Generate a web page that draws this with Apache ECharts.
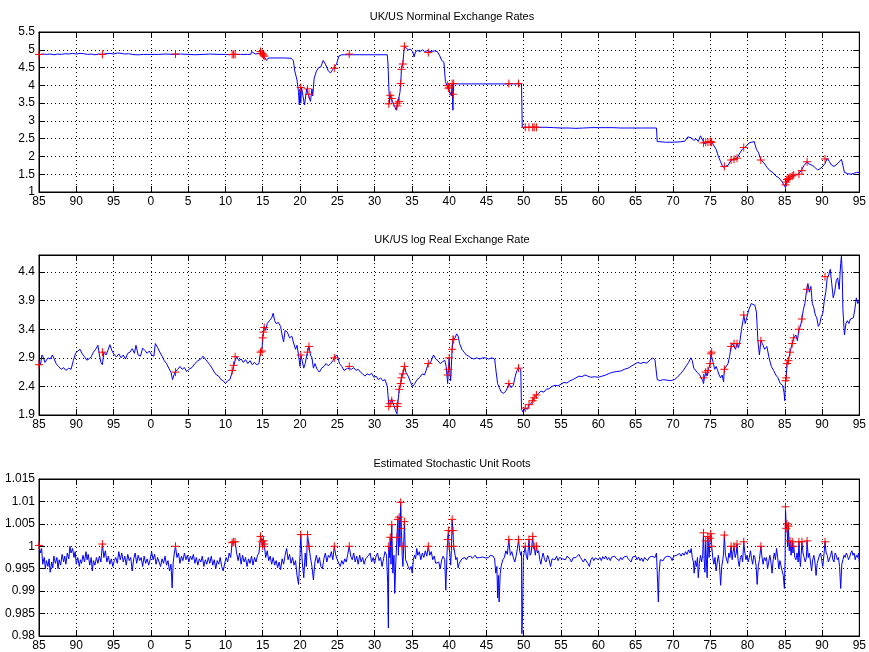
<!DOCTYPE html>
<html>
<head>
<meta charset="utf-8">
<script src="https://cdn.jsdelivr.net/npm/echarts@6/dist/echarts.min.js"></script>
<style>
html,body{margin:0;padding:0;background:#fff}
#chart{width:869px;height:652px}
</style>
</head>
<body>
<div id="chart"></div>
<script>
// Panel titles
const titles = ['UK/US Norminal Exchange Rates', 'UK/US log Real Exchange Rate', 'Estimated Stochastic Unit Roots'];

// Tick labels of the three value axes
const ticksNominal = [1, 1.5, 2, 2.5, 3, 3.5, 4, 4.5, 5, 5.5];
const ticksReal = [1.9, 2.4, 2.9, 3.4, 3.9, 4.4];
const ticksRoot = [0.98, 0.985, 0.99, 0.995, 1, 1.005, 1.01, 1.015];

// UK/US nominal exchange rate, [year, rate]
const nominal = [
[1885.0,4.86],[1885.5,4.88],[1886,4.87],[1886.5,4.88],[1887,4.86],[1887.5,4.88],[1888,4.87],[1888.5,4.89],[1889,4.88],[1889.5,4.9],[1890,4.88],[1890.5,4.9],[1891,4.89],[1891.5,4.87],[1892,4.88],[1892.5,4.86],[1893,4.88],[1893.5,4.87],[1894,4.89],[1894.5,4.9],[1895,4.88],[1895.5,4.91],[1896,4.9],[1896.5,4.88],[1897,4.89],[1897.5,4.87],[1898,4.86],[1898.5,4.86],[1899,4.87],[1899.5,4.87],[1900,4.87],[1901,4.87],[1902,4.88],[1903,4.87],[1904,4.88],[1905,4.87],[1906,4.86],[1907,4.87],[1908,4.88],[1909,4.87],[1910,4.87],[1910.5,4.86],[1911,4.87],[1912,4.87],[1913,4.87],[1913.4,4.87],[1913.5,4.95],[1913.6,4.9],[1914,4.88],[1914.5,4.9],[1914.7,4.95],[1914.9,4.9],[1915.1,4.84],[1915.3,4.8],[1915.5,4.7],[1915.7,4.76],[1916,4.77],[1917,4.77],[1918,4.77],[1918.8,4.76],[1919.1,4.7],[1919.3,4.4],[1919.6,4.15],[1919.8,3.8],[1919.9,3.45],[1920.0,3.9],[1920.1,3.5],[1920.2,3.95],[1920.4,3.9],[1920.6,3.45],[1920.7,3.4],[1920.9,3.9],[1921.0,3.8],[1921.2,3.75],[1921.4,3.55],[1921.6,3.9],[1921.7,3.7],[1921.9,4.2],[1922.2,4.4],[1922.5,4.5],[1922.8,4.52],[1923.1,4.7],[1923.4,4.6],[1923.8,4.4],[1924.1,4.35],[1924.4,4.45],[1924.6,4.48],[1924.9,4.6],[1925.2,4.82],[1925.6,4.86],[1926,4.86],[1927,4.86],[1928,4.86],[1929,4.86],[1930,4.86],[1931,4.86],[1931.7,4.86],[1931.8,4.6],[1931.9,4.0],[1932.0,3.5],[1932.1,3.72],[1932.3,3.6],[1932.5,3.6],[1932.7,3.4],[1932.9,3.3],[1933.0,3.42],[1933.1,3.5],[1933.3,3.55],[1933.4,3.8],[1933.5,4.05],[1933.6,4.45],[1933.8,4.65],[1934.0,5.1],[1934.2,5.05],[1934.5,5.0],[1934.8,5.02],[1935.1,4.95],[1935.3,4.8],[1935.5,4.95],[1935.8,4.98],[1936.1,4.95],[1936.4,5.0],[1936.7,4.95],[1937.0,4.97],[1937.2,4.92],[1937.6,4.95],[1938,4.97],[1938.4,4.95],[1938.7,4.85],[1939.0,4.7],[1939.3,4.65],[1939.5,4.1],[1939.7,4.0],[1939.9,3.92],[1940.1,3.95],[1940.3,3.7],[1940.4,4.05],[1940.5,3.3],[1940.6,4.05],[1941,4.04],[1942,4.04],[1943,4.04],[1944,4.04],[1945,4.04],[1946,4.04],[1947,4.04],[1948,4.04],[1949,4.04],[1949.7,4.04],[1949.8,2.82],[1951,2.82],[1952,2.82],[1953,2.82],[1954,2.81],[1955,2.8],[1956,2.8],[1957,2.79],[1958,2.8],[1959,2.81],[1960,2.81],[1961,2.81],[1962,2.81],[1963,2.8],[1964,2.8],[1965,2.8],[1966,2.8],[1967,2.8],[1967.8,2.8],[1967.9,2.42],[1969,2.4],[1970,2.4],[1971,2.41],[1971.6,2.43],[1972,2.55],[1972.2,2.6],[1972.5,2.52],[1972.8,2.45],[1973.1,2.5],[1973.4,2.42],[1973.7,2.58],[1974,2.45],[1974.3,2.35],[1974.6,2.4],[1974.9,2.42],[1975.2,2.42],[1975.5,2.3],[1975.8,2.2],[1976.1,2.0],[1976.4,1.85],[1976.7,1.7],[1977,1.72],[1977.4,1.75],[1977.8,1.9],[1978.2,1.92],[1978.6,1.95],[1979,2.1],[1979.3,2.2],[1979.6,2.25],[1979.9,2.3],[1980.2,2.38],[1980.6,2.4],[1980.9,2.42],[1981.2,2.2],[1981.5,2.1],[1981.8,1.9],[1982.2,1.82],[1982.6,1.7],[1983,1.6],[1983.4,1.55],[1983.8,1.45],[1984.2,1.4],[1984.6,1.3],[1984.9,1.2],[1985.1,1.12],[1985.3,1.3],[1985.6,1.4],[1986,1.45],[1986.4,1.48],[1986.8,1.5],[1987.2,1.6],[1987.6,1.75],[1988,1.85],[1988.3,1.78],[1988.7,1.75],[1989,1.7],[1989.4,1.62],[1989.7,1.65],[1990,1.7],[1990.4,1.8],[1990.7,1.95],[1991,1.85],[1991.3,1.75],[1991.6,1.72],[1992,1.78],[1992.3,1.85],[1992.6,1.92],[1992.8,1.75],[1993,1.55],[1993.4,1.52],[1993.8,1.5],[1994.2,1.52],[1994.6,1.55],[1995,1.55]
];

// UK/US log real exchange rate, [year, value]
const real = [
[1885.0,2.85],[1885.2,2.78],[1885.4,2.95],[1885.6,2.9],[1885.8,2.82],[1886.0,2.8],[1886.2,2.9],[1886.5,2.88],[1886.8,2.95],[1887.0,2.93],[1887.3,2.8],[1887.6,2.75],[1888.0,2.7],[1888.3,2.73],[1888.6,2.68],[1889.0,2.72],[1889.3,2.7],[1889.6,2.85],[1889.9,2.98],[1890.2,3.02],[1890.5,3.05],[1890.8,2.97],[1891.1,2.92],[1891.4,2.86],[1891.7,2.88],[1892.0,2.92],[1892.3,3.0],[1892.6,3.05],[1892.9,3.12],[1893.1,2.95],[1893.3,2.82],[1893.5,2.78],[1893.7,3.0],[1894.0,2.95],[1894.3,3.05],[1894.5,3.13],[1894.8,3.02],[1895.1,2.95],[1895.4,2.92],[1895.7,2.97],[1896.0,2.9],[1896.3,2.95],[1896.6,2.88],[1896.9,2.98],[1897.2,3.0],[1897.5,3.06],[1897.8,2.98],[1898.0,3.12],[1898.3,2.95],[1898.6,2.93],[1898.9,3.07],[1899.2,3.03],[1899.5,2.98],[1899.8,3.02],[1900.1,2.95],[1900.4,2.93],[1900.6,3.15],[1900.9,3.08],[1901.2,3.0],[1901.5,2.93],[1901.8,2.85],[1902.1,2.8],[1902.4,2.72],[1902.7,2.65],[1902.9,2.52],[1903.1,2.6],[1903.3,2.66],[1903.6,2.7],[1903.9,2.75],[1904.2,2.7],[1904.5,2.73],[1904.8,2.66],[1905.1,2.7],[1905.5,2.73],[1905.9,2.8],[1906.3,2.85],[1906.7,2.88],[1907.0,2.93],[1907.3,2.88],[1907.6,2.83],[1907.9,2.78],[1908.2,2.72],[1908.5,2.65],[1908.8,2.6],[1909.1,2.58],[1909.4,2.52],[1909.7,2.5],[1910.0,2.45],[1910.3,2.5],[1910.6,2.52],[1910.9,2.65],[1911.1,2.75],[1911.3,2.85],[1911.5,2.92],[1911.8,2.85],[1912.1,2.88],[1912.4,2.82],[1912.7,2.87],[1913.0,2.8],[1913.3,2.85],[1913.6,2.78],[1913.9,2.82],[1914.2,2.78],[1914.5,2.8],[1914.7,3.0],[1914.9,3.05],[1915.0,3.25],[1915.1,3.35],[1915.2,3.45],[1915.4,3.38],[1915.6,3.5],[1915.9,3.55],[1916.2,3.6],[1916.4,3.68],[1916.6,3.55],[1916.8,3.5],[1917.1,3.52],[1917.4,3.45],[1917.6,3.3],[1917.8,3.18],[1918.0,3.38],[1918.3,3.35],[1918.6,3.25],[1918.9,3.28],[1919.1,3.18],[1919.4,3.05],[1919.6,3.12],[1919.8,2.95],[1920.0,2.75],[1920.1,2.95],[1920.3,2.85],[1920.5,2.72],[1920.7,2.8],[1920.9,2.95],[1921.0,3.0],[1921.2,3.1],[1921.4,2.95],[1921.6,2.9],[1921.8,2.72],[1922.0,2.8],[1922.3,2.7],[1922.6,2.65],[1922.9,2.72],[1923.2,2.75],[1923.5,2.8],[1923.8,2.76],[1924.1,2.8],[1924.4,2.85],[1924.6,2.9],[1924.9,2.95],[1925.1,2.9],[1925.3,2.8],[1925.6,2.75],[1925.9,2.68],[1926.1,2.65],[1926.4,2.72],[1926.6,2.75],[1926.9,2.7],[1927.2,2.73],[1927.5,2.68],[1927.8,2.7],[1928.1,2.65],[1928.4,2.62],[1928.7,2.58],[1929.0,2.62],[1929.3,2.6],[1929.6,2.63],[1929.9,2.56],[1930.2,2.58],[1930.5,2.52],[1930.8,2.55],[1931.1,2.5],[1931.4,2.52],[1931.7,2.4],[1931.9,2.08],[1932.1,2.12],[1932.3,2.18],[1932.5,2.1],[1932.8,1.98],[1933.0,1.92],[1933.1,2.08],[1933.3,2.35],[1933.5,2.45],[1933.6,2.55],[1933.8,2.62],[1934.0,2.76],[1934.2,2.65],[1934.5,2.58],[1934.8,2.48],[1935.1,2.4],[1935.4,2.45],[1935.7,2.52],[1936.0,2.55],[1936.4,2.62],[1936.7,2.6],[1937.0,2.72],[1937.2,2.8],[1937.5,2.82],[1937.9,2.95],[1938.2,2.88],[1938.5,2.85],[1938.8,2.8],[1939.1,2.83],[1939.4,2.86],[1939.6,2.75],[1939.8,2.45],[1939.9,2.7],[1940.0,2.9],[1940.1,2.65],[1940.2,2.5],[1940.4,3.05],[1940.5,3.2],[1940.6,3.22],[1940.8,3.25],[1941.0,3.32],[1941.2,3.28],[1941.4,3.15],[1941.7,3.05],[1942.0,3.0],[1942.3,2.95],[1942.6,2.93],[1942.9,2.9],[1943.3,2.88],[1943.7,2.9],[1944.1,2.88],[1944.5,2.9],[1944.9,2.9],[1945.3,2.88],[1945.7,2.9],[1946.1,2.88],[1946.3,2.65],[1946.5,2.45],[1946.7,2.38],[1947.0,2.3],[1947.3,2.28],[1947.6,2.32],[1947.9,2.4],[1948.0,2.45],[1948.3,2.38],[1948.6,2.42],[1948.9,2.6],[1949.1,2.68],[1949.3,2.72],[1949.6,2.7],[1949.7,2.0],[1949.9,1.95],[1950.2,2.02],[1950.5,2.0],[1950.7,2.08],[1951.0,2.1],[1951.2,2.15],[1951.4,2.2],[1951.7,2.25],[1952.0,2.28],[1952.3,2.32],[1952.7,2.3],[1953.0,2.35],[1953.4,2.36],[1953.8,2.4],[1954.2,2.42],[1954.6,2.41],[1955.0,2.44],[1955.4,2.47],[1955.8,2.46],[1956.2,2.5],[1956.6,2.52],[1957.0,2.55],[1957.4,2.58],[1957.8,2.57],[1958.2,2.6],[1958.6,2.58],[1959.0,2.56],[1959.5,2.57],[1960.0,2.56],[1960.5,2.58],[1961.0,2.6],[1961.5,2.63],[1962.0,2.65],[1962.5,2.66],[1963.0,2.67],[1963.5,2.7],[1964.0,2.72],[1964.5,2.76],[1965.0,2.8],[1965.3,2.82],[1965.7,2.8],[1966.0,2.82],[1966.5,2.81],[1967.0,2.87],[1967.3,2.9],[1967.6,2.86],[1967.9,2.52],[1968.3,2.5],[1968.7,2.52],[1969.2,2.51],[1969.7,2.5],[1970.2,2.52],[1970.6,2.56],[1971.0,2.62],[1971.4,2.68],[1971.8,2.76],[1972.1,2.82],[1972.4,2.9],[1972.6,2.85],[1972.8,2.72],[1973.0,2.7],[1973.3,2.64],[1973.6,2.6],[1973.8,2.55],[1974.0,2.5],[1974.1,2.45],[1974.3,2.6],[1974.4,2.65],[1974.6,2.58],[1974.7,2.68],[1974.9,2.75],[1975.0,2.8],[1975.1,2.97],[1975.2,3.0],[1975.4,2.82],[1975.6,2.7],[1975.8,2.75],[1976.0,2.68],[1976.2,2.6],[1976.4,2.55],[1976.6,2.6],[1976.8,2.48],[1976.9,2.7],[1977.1,2.68],[1977.4,2.8],[1977.6,2.92],[1977.8,3.1],[1978.0,3.15],[1978.2,3.12],[1978.4,3.05],[1978.6,3.15],[1978.8,3.08],[1979.0,3.2],[1979.2,3.4],[1979.4,3.55],[1979.5,3.65],[1979.7,3.5],[1979.9,3.6],[1980.2,3.75],[1980.5,3.85],[1980.7,3.88],[1981.0,3.82],[1981.2,3.7],[1981.4,3.2],[1981.6,2.95],[1981.8,3.2],[1982.0,3.15],[1982.3,3.05],[1982.6,3.1],[1982.9,2.9],[1983.2,2.75],[1983.5,2.68],[1983.8,2.6],[1984.1,2.55],[1984.4,2.45],[1984.7,2.42],[1984.9,2.3],[1985.0,2.15],[1985.1,2.5],[1985.2,2.55],[1985.3,2.8],[1985.5,2.85],[1985.7,3.0],[1986.0,3.15],[1986.2,3.25],[1986.5,3.3],[1986.7,3.2],[1986.9,3.4],[1987.1,3.45],[1987.3,3.58],[1987.5,3.75],[1987.7,3.85],[1987.9,4.05],[1988.1,4.2],[1988.3,4.05],[1988.5,4.15],[1988.7,3.85],[1988.9,3.78],[1989.1,3.65],[1989.3,3.6],[1989.5,3.45],[1989.7,3.5],[1989.9,3.62],[1990.1,3.68],[1990.3,3.9],[1990.5,4.05],[1990.7,4.3],[1990.9,4.35],[1991.1,4.45],[1991.3,4.2],[1991.5,3.95],[1991.7,4.05],[1991.9,4.25],[1992.1,4.3],[1992.3,4.1],[1992.5,4.55],[1992.6,4.68],[1992.7,4.4],[1992.8,3.75],[1993.0,3.3],[1993.2,3.5],[1993.4,3.55],[1993.6,3.5],[1993.8,3.58],[1994.0,3.55],[1994.2,3.6],[1994.4,3.75],[1994.6,3.95],[1994.8,3.85],[1995.0,3.9]
];

// Estimated stochastic unit root, [year, root]
const root = [
[1885.0,1.0002],[1885.2,0.9985],[1885.35,0.9995],[1885.5,0.996],[1885.7,0.9975],[1885.85,0.995],[1886.0,0.9968],[1886.2,0.9955],[1886.35,0.9972],[1886.5,0.9942],[1886.7,0.9965],[1886.85,0.9952],[1887.0,0.9978],[1887.2,0.9962],[1887.4,0.9975],[1887.55,0.995],[1887.7,0.997],[1887.9,0.9958],[1888.1,0.9982],[1888.3,0.9965],[1888.45,0.9978],[1888.6,0.996],[1888.8,0.9985],[1889.0,0.9972],[1889.15,1.0],[1889.3,0.9985],[1889.5,0.9995],[1889.7,0.9975],[1889.85,0.9988],[1890.0,0.996],[1890.2,0.9975],[1890.4,0.9955],[1890.55,0.997],[1890.7,0.9962],[1890.9,0.998],[1891.1,0.9965],[1891.3,0.9988],[1891.45,0.997],[1891.6,0.9982],[1891.8,0.9958],[1892.0,0.9975],[1892.15,0.9945],[1892.3,0.9968],[1892.5,0.9958],[1892.7,0.9975],[1892.9,0.9962],[1893.1,0.9978],[1893.3,0.9965],[1893.5,1.0005],[1893.7,0.9975],[1893.9,0.999],[1894.1,0.9965],[1894.3,0.9978],[1894.5,0.996],[1894.7,0.9972],[1894.9,0.9955],[1895.1,0.9968],[1895.3,0.9975],[1895.5,0.9962],[1895.7,0.9988],[1895.9,0.997],[1896.1,0.9985],[1896.3,0.9965],[1896.5,0.9978],[1896.7,0.9958],[1896.9,0.9982],[1897.1,0.9968],[1897.3,0.9975],[1897.5,0.9945],[1897.7,0.9972],[1897.9,0.9985],[1898.1,0.9962],[1898.3,0.998],[1898.5,0.9968],[1898.7,0.9975],[1898.9,0.9955],[1899.1,0.9978],[1899.3,0.9962],[1899.5,0.9972],[1899.7,0.9958],[1899.9,0.997],[1900.1,0.9988],[1900.3,0.997],[1900.5,0.9982],[1900.7,0.996],[1900.9,0.9975],[1901.1,0.9965],[1901.3,0.9955],[1901.5,0.9972],[1901.7,0.9962],[1901.9,0.9978],[1902.1,0.9958],[1902.3,0.9968],[1902.5,0.9945],[1902.7,0.996],[1902.85,0.9907],[1903.0,0.9965],[1903.15,0.9985],[1903.3,1.0],[1903.5,0.9975],[1903.7,0.9985],[1903.9,0.9962],[1904.1,0.9978],[1904.3,0.9968],[1904.5,0.9985],[1904.7,0.997],[1904.9,0.998],[1905.1,0.9965],[1905.3,0.9978],[1905.5,0.997],[1905.7,0.9982],[1905.9,0.9962],[1906.1,0.9975],[1906.3,0.9958],[1906.5,0.9972],[1906.7,0.9965],[1906.9,0.9978],[1907.1,0.9955],[1907.3,0.997],[1907.5,0.996],[1907.7,0.9975],[1907.9,0.9962],[1908.1,0.9978],[1908.3,0.9958],[1908.5,0.997],[1908.7,0.995],[1908.9,0.9968],[1909.1,0.996],[1909.3,0.9975],[1909.5,0.9955],[1909.7,0.9945],[1909.9,0.9962],[1910.1,0.9975],[1910.3,0.9965],[1910.5,0.9985],[1910.7,0.9975],[1910.9,1.0008],[1911.1,1.001],[1911.3,1.001],[1911.5,0.9985],[1911.7,0.9968],[1911.9,0.9985],[1912.1,0.996],[1912.3,0.998],[1912.5,0.9965],[1912.7,0.9975],[1912.9,0.9955],[1913.1,0.9972],[1913.3,0.9962],[1913.5,0.9978],[1913.7,0.9958],[1913.9,0.9975],[1914.1,0.9965],[1914.3,0.998],[1914.5,0.9985],[1914.7,1.0022],[1914.9,1.001],[1915.0,1.0],[1915.1,1.0012],[1915.2,1.0005],[1915.4,0.9975],[1915.6,0.999],[1915.8,0.9968],[1916.0,0.9978],[1916.2,0.996],[1916.4,0.9975],[1916.6,0.9958],[1916.8,0.9968],[1917.0,0.9952],[1917.2,0.9965],[1917.4,0.9948],[1917.6,0.9972],[1917.8,0.996],[1918.0,0.998],[1918.2,0.9995],[1918.4,0.997],[1918.6,0.9982],[1918.8,0.9962],[1919.0,0.9975],[1919.2,0.9958],[1919.4,0.9968],[1919.6,0.9935],[1919.8,0.9915],[1920.0,0.998],[1920.1,1.0026],[1920.3,0.9965],[1920.5,0.993],[1920.7,0.9985],[1920.85,0.9955],[1921.0,1.0026],[1921.1,1.0015],[1921.2,1.0],[1921.4,0.9975],[1921.6,0.9955],[1921.8,0.9925],[1922.0,0.9965],[1922.2,0.998],[1922.4,0.9962],[1922.6,0.9975],[1922.8,0.9955],[1923.0,0.995],[1923.2,0.9972],[1923.4,0.9985],[1923.6,0.9965],[1923.8,0.998],[1924.0,0.9975],[1924.2,0.9988],[1924.4,0.997],[1924.6,1.0],[1924.8,0.998],[1925.0,0.997],[1925.2,0.9962],[1925.4,0.9955],[1925.6,0.9968],[1925.8,0.996],[1926.0,0.9972],[1926.2,0.9965],[1926.4,0.9982],[1926.6,1.0],[1926.8,0.9978],[1927.0,0.997],[1927.2,0.9985],[1927.4,0.9965],[1927.6,0.9978],[1927.8,0.996],[1928.0,0.998],[1928.2,0.9965],[1928.4,0.9975],[1928.6,0.996],[1928.8,0.9972],[1929.0,0.9968],[1929.2,0.998],[1929.4,0.9985],[1929.6,0.9965],[1929.8,0.9975],[1930.0,0.9962],[1930.2,0.9978],[1930.4,0.9985],[1930.6,0.9968],[1930.8,0.9975],[1931.0,0.9955],[1931.2,0.9972],[1931.4,0.9988],[1931.6,0.998],[1931.75,0.992],[1931.85,0.9818],[1931.9,1.0],[1932.0,0.9975],[1932.1,1.002],[1932.2,0.996],[1932.3,1.0048],[1932.45,0.994],[1932.6,0.998],[1932.7,0.9895],[1932.85,0.9965],[1933.0,1.002],[1933.1,1.006],[1933.2,0.998],[1933.3,1.0065],[1933.4,1.0],[1933.5,1.0098],[1933.6,1.004],[1933.7,0.998],[1933.8,0.9955],[1933.9,1.0],[1934.0,1.0055],[1934.15,0.997],[1934.3,0.9965],[1934.5,0.9955],[1934.7,0.9948],[1934.9,0.9955],[1935.05,0.994],[1935.2,0.997],[1935.35,0.998],[1935.5,0.9972],[1935.65,0.9995],[1935.8,0.998],[1936.0,0.9988],[1936.2,0.997],[1936.4,0.9985],[1936.6,0.9975],[1936.8,0.999],[1937.0,0.9978],[1937.2,1.0],[1937.4,0.998],[1937.6,0.9988],[1937.8,0.997],[1938.0,0.9978],[1938.2,0.9962],[1938.4,0.9958],[1938.6,0.9965],[1938.8,0.995],[1939.0,0.997],[1939.2,0.9978],[1939.4,0.997],[1939.55,0.9902],[1939.7,0.998],[1939.8,1.0015],[1939.9,1.0035],[1940.0,1.0],[1940.1,0.998],[1940.2,0.9958],[1940.3,0.999],[1940.4,1.006],[1940.5,1.0035],[1940.6,1.0],[1940.75,0.9985],[1940.9,0.997],[1941.05,0.9975],[1941.2,0.9952],[1941.35,0.9962],[1941.5,0.9966],[1941.7,0.9972],[1941.9,0.9968],[1942.1,0.9975],[1942.3,0.997],[1942.5,0.9976],[1942.7,0.9972],[1942.9,0.9978],[1943.1,0.9973],[1943.3,0.9977],[1943.5,0.998],[1943.7,0.9974],[1943.9,0.9978],[1944.1,0.9975],[1944.3,0.9979],[1944.5,0.9976],[1944.7,0.998],[1944.9,0.9974],[1945.1,0.9977],[1945.3,0.9975],[1945.5,0.998],[1945.7,0.9976],[1945.9,0.9978],[1946.1,0.9972],[1946.25,0.994],[1946.4,0.9955],[1946.5,0.9885],[1946.6,0.9935],[1946.7,0.9876],[1946.85,0.994],[1947.0,0.9958],[1947.2,0.997],[1947.4,0.9975],[1947.6,0.999],[1947.8,0.9982],[1948.0,1.0015],[1948.2,0.998],[1948.4,0.9988],[1948.6,0.9975],[1948.8,0.9965],[1949.0,0.998],[1949.15,0.9995],[1949.3,1.0015],[1949.45,0.999],[1949.6,0.998],[1949.7,0.9988],[1949.75,0.9805],[1949.85,0.9855],[1949.95,0.9975],[1950.05,0.9985],[1950.2,1.0],[1950.35,0.9978],[1950.5,0.997],[1950.7,1.0015],[1950.85,0.998],[1951.0,0.9985],[1951.2,1.0022],[1951.3,0.9995],[1951.4,1.0],[1951.55,0.998],[1951.7,1.0],[1951.85,0.9985],[1952.0,0.999],[1952.15,0.997],[1952.3,0.996],[1952.45,0.9975],[1952.6,0.9985],[1952.8,0.997],[1953.0,0.9965],[1953.2,0.998],[1953.4,0.997],[1953.6,0.9955],[1953.8,0.9972],[1954.0,0.9975],[1954.2,0.997],[1954.4,0.9978],[1954.6,0.9968],[1954.8,0.9975],[1955.0,0.9978],[1955.2,0.9972],[1955.4,0.9975],[1955.6,0.997],[1955.8,0.9978],[1956.0,0.998],[1956.2,0.9972],[1956.4,0.9965],[1956.6,0.9974],[1956.8,0.997],[1957.0,0.9975],[1957.2,0.9978],[1957.4,0.9982],[1957.6,0.9975],[1957.8,0.997],[1958.0,0.9965],[1958.2,0.9972],[1958.4,0.9975],[1958.6,0.9962],[1958.8,0.9955],[1959.0,0.997],[1959.2,0.9975],[1959.4,0.9968],[1959.6,0.9974],[1959.8,0.9978],[1960.0,0.997],[1960.2,0.9975],[1960.4,0.9968],[1960.6,0.9977],[1960.8,0.9972],[1961.0,0.9978],[1961.2,0.997],[1961.4,0.9975],[1961.6,0.9968],[1961.8,0.9976],[1962.0,0.9972],[1962.2,0.9978],[1962.4,0.9973],[1962.6,0.9976],[1962.8,0.9968],[1963.0,0.9975],[1963.2,0.997],[1963.4,0.9976],[1963.6,0.9972],[1963.8,0.9978],[1964.0,0.9972],[1964.2,0.9975],[1964.4,0.9965],[1964.6,0.9976],[1964.8,0.9972],[1965.0,0.9978],[1965.2,0.997],[1965.4,0.9976],[1965.6,0.9968],[1965.8,0.9974],[1966.0,0.9966],[1966.2,0.9975],[1966.4,0.9972],[1966.6,0.9968],[1966.8,0.9975],[1967.0,0.9972],[1967.2,0.9978],[1967.4,0.9982],[1967.6,0.9975],[1967.8,0.9985],[1967.95,0.992],[1968.05,0.9876],[1968.15,0.994],[1968.3,0.997],[1968.5,0.9972],[1968.7,0.9968],[1968.9,0.9975],[1969.1,0.9972],[1969.3,0.9978],[1969.5,0.9974],[1969.7,0.9976],[1969.9,0.9968],[1970.1,0.9978],[1970.3,0.9974],[1970.5,0.998],[1970.7,0.9976],[1970.9,0.9984],[1971.1,0.9978],[1971.3,0.9985],[1971.5,0.998],[1971.7,0.9988],[1971.9,0.9982],[1972.1,0.9992],[1972.3,0.9985],[1972.45,0.9995],[1972.6,0.9975],[1972.75,0.9965],[1972.85,0.994],[1973.0,0.9968],[1973.15,0.9955],[1973.3,0.9975],[1973.4,0.993],[1973.55,0.9962],[1973.7,0.998],[1973.85,0.9965],[1974.0,0.998],[1974.1,1.003],[1974.2,0.997],[1974.3,0.9942],[1974.4,1.0012],[1974.5,0.9965],[1974.6,0.993],[1974.7,1.0022],[1974.85,0.9975],[1975.0,1.0018],[1975.1,1.0028],[1975.2,1.0],[1975.35,0.9975],[1975.5,0.996],[1975.65,0.9975],[1975.8,0.9945],[1975.95,0.9965],[1976.1,0.998],[1976.25,0.996],[1976.4,0.9913],[1976.55,0.9955],[1976.7,0.997],[1976.8,0.9985],[1976.9,1.0025],[1977.05,0.998],[1977.2,0.9978],[1977.35,0.9962],[1977.5,0.9985],[1977.65,0.9975],[1977.8,1.0],[1977.95,0.997],[1978.05,0.9985],[1978.2,1.0],[1978.35,0.9975],[1978.5,0.9985],[1978.6,1.0005],[1978.75,0.9968],[1978.9,0.9955],[1979.05,0.9975],[1979.2,0.998],[1979.35,0.9965],[1979.5,1.001],[1979.65,0.9985],[1979.8,0.997],[1979.95,0.998],[1980.1,0.9965],[1980.25,0.9975],[1980.4,0.999],[1980.55,0.9972],[1980.7,0.996],[1980.85,0.998],[1981.0,0.9975],[1981.15,0.9958],[1981.3,0.9915],[1981.45,0.9955],[1981.6,0.997],[1981.7,0.9985],[1981.8,1.0],[1981.95,0.9975],[1982.1,0.996],[1982.25,0.9975],[1982.4,0.9968],[1982.55,0.9975],[1982.7,0.995],[1982.85,0.9965],[1983.0,0.998],[1983.15,0.9965],[1983.3,0.994],[1983.45,0.997],[1983.6,0.9985],[1983.75,0.997],[1983.9,0.9995],[1984.05,0.9975],[1984.2,0.995],[1984.35,0.9968],[1984.5,0.9965],[1984.65,0.9945],[1984.8,0.9935],[1984.95,0.9906],[1985.05,0.997],[1985.1,1.0088],[1985.2,1.004],[1985.3,1.005],[1985.4,1.0],[1985.5,1.0045],[1985.6,0.999],[1985.7,1.0012],[1985.85,0.998],[1986.0,1.001],[1986.1,0.9985],[1986.2,1.0],[1986.35,0.9975],[1986.5,0.997],[1986.65,0.9985],[1986.8,0.9965],[1986.9,1.001],[1987.0,0.9975],[1987.1,0.9955],[1987.2,0.998],[1987.3,1.001],[1987.45,0.9985],[1987.6,0.9975],[1987.75,0.9965],[1987.9,0.9975],[1988.0,1.0012],[1988.15,0.9975],[1988.3,0.9985],[1988.45,0.9965],[1988.6,0.9945],[1988.75,0.997],[1988.9,0.998],[1989.05,0.9965],[1989.2,0.9935],[1989.35,0.9962],[1989.5,0.9965],[1989.65,0.998],[1989.8,0.9985],[1989.95,0.997],[1990.1,0.9955],[1990.25,0.998],[1990.4,1.001],[1990.55,0.9985],[1990.7,0.998],[1990.85,0.9965],[1991.0,0.9965],[1991.15,0.998],[1991.3,0.999],[1991.45,0.997],[1991.6,0.9965],[1991.75,0.9985],[1991.9,0.998],[1992.05,0.997],[1992.2,0.9975],[1992.35,0.9955],[1992.5,0.9906],[1992.65,0.996],[1992.8,0.997],[1992.95,0.998],[1993.1,0.9975],[1993.25,0.9985],[1993.4,0.998],[1993.55,0.997],[1993.7,0.9975],[1993.85,0.9985],[1994.0,0.999],[1994.15,0.998],[1994.3,0.9985],[1994.45,0.997],[1994.6,0.998],[1994.75,0.9975],[1994.9,0.9985],[1995.0,0.9965]
];

// Dates flagged with a root above one, and the value of each panel there
const flagYears = [1885.0,1893.5,1903.3,1910.9,1911.1,1911.3,1914.7,1914.9,1915.0,1915.1,1915.2,1920.1,1921.0,1921.2,1924.6,1926.6,1931.9,1932.1,1932.3,1933.0,1933.1,1933.3,1933.5,1933.6,1933.8,1934.0,1937.2,1939.8,1939.9,1940.0,1940.4,1940.5,1940.6,1948.0,1949.3,1950.2,1950.7,1951.2,1951.4,1951.7,1974.1,1974.4,1974.7,1975.0,1975.1,1975.2,1976.9,1977.8,1978.2,1978.6,1979.5,1981.8,1985.1,1985.2,1985.3,1985.5,1985.7,1986.0,1986.2,1986.9,1987.3,1988.0,1990.4];
const flagNominal = [4.87,4.87,4.88,4.87,4.87,4.87,4.95,4.9,4.88,4.85,4.82,3.94,3.9,3.75,4.48,4.88,3.48,3.72,3.63,3.42,3.5,3.55,4.05,4.45,4.6,5.1,4.92,4.0,3.92,3.95,4.05,3.75,4.05,4.05,4.05,2.82,2.82,2.82,2.82,2.82,2.38,2.4,2.4,2.42,2.4,2.4,1.72,1.9,1.92,1.95,2.25,1.9,1.2,1.28,1.35,1.38,1.42,1.45,1.48,1.5,1.6,1.85,1.93];
const flagReal = [2.78,3.0,2.65,2.68,2.77,2.92,3.0,3.02,3.25,3.35,3.43,2.95,3.0,3.1,2.9,2.75,2.05,2.1,2.15,2.05,2.1,2.35,2.45,2.55,2.62,2.75,2.8,2.6,2.7,2.9,3.05,3.22,3.22,2.45,2.72,2.02,2.08,2.15,2.2,2.25,2.55,2.65,2.68,2.8,2.97,3.0,2.7,3.1,3.15,3.15,3.65,3.2,2.5,2.55,2.8,2.85,3.0,3.15,3.25,3.4,3.58,4.1,4.32];
const flagRoot = [1.0002,1.0005,1.0,1.0008,1.001,1.001,1.0022,1.001,1.0,1.0012,1.0005,1.0026,1.0026,1.0,1.0,1.0,1.0,1.002,1.0048,1.002,1.006,1.0065,1.0098,1.004,1.0,1.0055,1.0,1.0015,1.0035,1.0,1.006,1.0035,1.0,1.0015,1.0015,1.0,1.0015,1.0022,1.0,1.0,1.003,1.0012,1.0022,1.0018,1.0028,1.0,1.0025,1.0,1.0,1.0005,1.001,1.0,1.0088,1.004,1.005,1.0045,1.0012,1.001,1.0,1.001,1.001,1.0012,1.001];

const FONT = 'Liberation Sans, Arial, sans-serif';
const panels = [
  { top: 32, height: 160, min: 1, max: 5.5, ticks: ticksNominal, line: nominal, flags: flagNominal },
  { top: 255, height: 160, min: 1.9, max: 4.7, ticks: ticksReal, line: real, flags: flagReal },
  { top: 479, height: 161, min: 0.98, max: 1.015, ticks: ticksRoot, line: root, flags: flagRoot }
];

const plusSymbol = 'path://M5,0L5,10M0,5L10,5';
const dotted = { color: '#000', width: 1, type: [1, 3] };
const fmtNum = v => String(+(+v).toFixed(4));
const fmtYear = v => String(Math.round(v) % 100);

const grid = [], xAxis = [], yAxis = [], series = [], graphic = [];

panels.forEach((p, i) => {
  grid.push({ left: 39, right: 4, top: p.top, height: p.height, show: true,
    borderColor: '#000', borderWidth: 1, backgroundColor: '#fff' });

  const xBase = { type: 'value', gridIndex: i, min: 1885, max: 1995, interval: 5 };
  xAxis.push(Object.assign({}, xBase, {
    position: 'bottom',
    axisLine: { show: true, onZero: false, lineStyle: { color: '#000', width: 1 } },
    axisTick: { show: true, inside: true, length: 6, lineStyle: { color: '#000' } },
    axisLabel: { show: true, color: '#000', fontFamily: FONT, fontSize: 12, margin: 4, formatter: fmtYear,
      showMinLabel: true, showMaxLabel: true },
    splitLine: { show: true, lineStyle: dotted }
  }));
  xAxis.push(Object.assign({}, xBase, {
    position: 'top',
    axisLine: { show: true, onZero: false, lineStyle: { color: '#000', width: 1 } },
    axisTick: { show: true, inside: true, length: 6, lineStyle: { color: '#000' } },
    axisLabel: { show: false },
    splitLine: { show: false }
  }));

  const yBase = { type: 'value', gridIndex: i, min: p.min, max: p.max };
  yAxis.push(Object.assign({}, yBase, {
    position: 'left',
    axisLine: { show: true, onZero: false, lineStyle: { color: '#000', width: 1 } },
    axisTick: { show: true, inside: true, length: 6, customValues: p.ticks, lineStyle: { color: '#000' } },
    axisLabel: { show: true, color: '#000', fontFamily: FONT, fontSize: 12, margin: 4,
      customValues: p.ticks, formatter: fmtNum },
    splitLine: { show: true, lineStyle: dotted }
  }));
  yAxis.push(Object.assign({}, yBase, {
    position: 'right',
    axisLine: { show: true, onZero: false, lineStyle: { color: '#000', width: 1 } },
    axisTick: { show: true, inside: true, length: 6, customValues: p.ticks, lineStyle: { color: '#000' } },
    axisLabel: { show: false },
    splitLine: { show: false }
  }));

  series.push({
    type: 'line', xAxisIndex: 2 * i, yAxisIndex: 2 * i, data: p.line,
    showSymbol: false, symbol: 'none', clip: true, silent: true,
    lineStyle: { color: '#0000ff', width: 1 }, z: 3
  });
  series.push({
    type: 'scatter', xAxisIndex: 2 * i, yAxisIndex: 2 * i,
    data: flagYears.map((y, k) => [y, p.flags[k]]),
    symbol: plusSymbol, symbolSize: 8, silent: true,
    itemStyle: { color: 'rgba(0,0,0,0)', borderColor: '#ff0000', borderWidth: 1, opacity: 1 }, z: 4
  });

  graphic.push({ type: 'text', x: 452, y: p.top - 15,
    style: { text: titles[i], fill: '#000', font: '11px ' + FONT, align: 'center', verticalAlign: 'middle' } });
});

const chart = echarts.init(document.getElementById('chart'), null, { renderer: 'canvas' });
chart.setOption({ animation: false, backgroundColor: '#fff', grid, xAxis, yAxis, series, graphic });
</script>
</body>
</html>
